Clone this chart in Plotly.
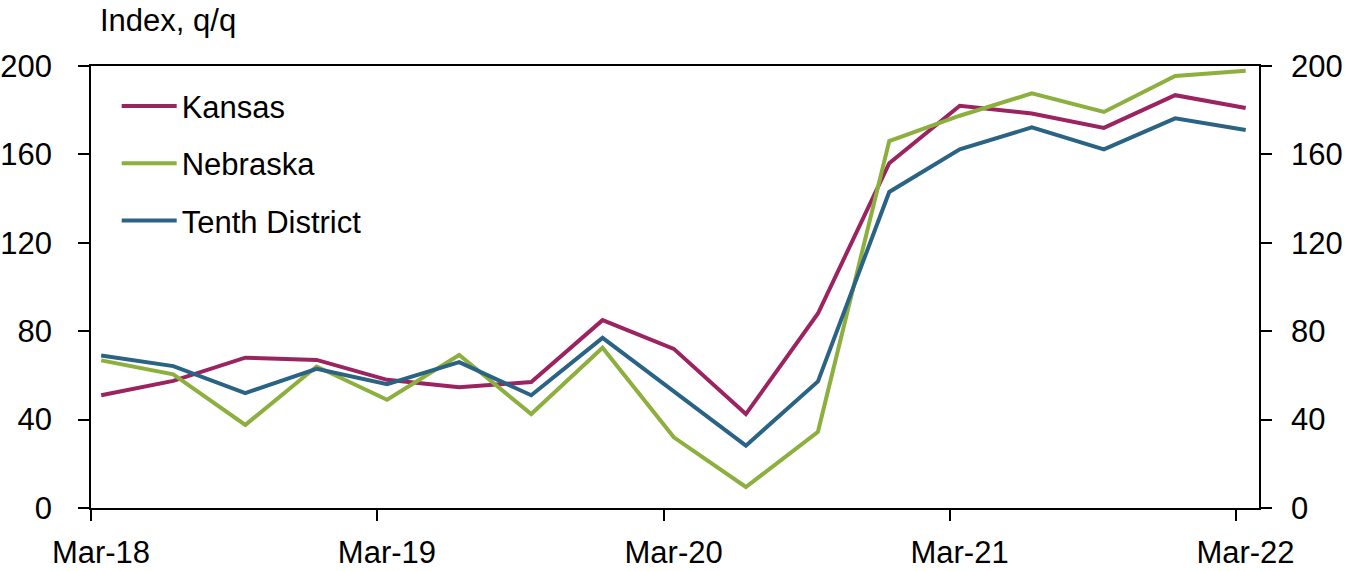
import plotly.graph_objects as go

quarters = ["2018-03", "2018-06", "2018-09", "2018-12",
            "2019-03", "2019-06", "2019-09", "2019-12",
            "2020-03", "2020-06", "2020-09", "2020-12",
            "2021-03", "2021-06", "2021-09", "2021-12",
            "2022-03"]
kansas = [51, 57.5, 68, 67, 58, 54.6, 57, 85, 72, 42.5, 88, 156, 182, 178.5, 172, 186.8, 181]
nebraska = [66.8, 60.5, 37.6, 64, 49, 69.2, 42.5, 72.5, 32, 9.5, 34.5, 166, 177.5, 187.6, 179.2, 195.5, 197.8]
tenth = [69, 64.2, 52, 63, 56, 66, 51, 77, 52.8, 28.2, 57.3, 143, 162.3, 172.2, 162.3, 176.3, 171]

tick_dates = ["2018-03-01", "2019-03-01", "2020-03-01", "2021-03-01", "2022-03-01"]
tick_labels = ["Mar-18", "Mar-19", "Mar-20", "Mar-21", "Mar-22"]
y_ticks = [0, 40, 80, 120, 160, 200]

dates = [q + "-14" for q in quarters]

FONT = "Liberation Sans, Arial, sans-serif"
FS = 31
LW = 4

fig = go.Figure()
fig.add_trace(go.Scatter(x=dates, y=kansas, name="Kansas", mode="lines",
                         line=dict(color="#9B2360", width=LW), legendgroup="a"))
fig.add_trace(go.Scatter(x=dates, y=nebraska, name="Nebraska", mode="lines",
                         line=dict(color="#8CAF3E", width=LW), legendgroup="b"))
fig.add_trace(go.Scatter(x=dates, y=tenth, name="Tenth District", mode="lines",
                         line=dict(color="#2A6383", width=LW), legendgroup="c",
                         yaxis="y2"))

axis_common = dict(range=[0, 200], tickvals=y_ticks, ticks="outside", ticklen=11,
                   tickwidth=1.5, tickcolor="black", showline=True, linecolor="black",
                   linewidth=1.5, showgrid=False, zeroline=False, automargin=False,
                   tickfont=dict(family=FONT, size=FS, color="black"))

fig.update_layout(
    template="none",
    width=1356, height=571,
    margin=dict(l=91, r=97, t=66, b=63, autoexpand=False),
    paper_bgcolor="white", plot_bgcolor="white",
    font=dict(family=FONT, size=FS, color="black"),
    showlegend=True,
    legend=dict(x=0.022, y=0.97, xanchor="left", yanchor="top",
                bgcolor="rgba(0,0,0,0)", font=dict(family=FONT, size=FS, color="black"),
                traceorder="grouped", tracegroupgap=14, itemwidth=55),
    xaxis=dict(type="date", range=["2018-03-01", "2022-03-31"], tickvals=tick_dates,
               ticktext=tick_labels, ticks="outside", ticklen=11, tickwidth=1.5,
               tickcolor="black", showline=True, mirror=True, linecolor="black",
               linewidth=1.5, showgrid=False, zeroline=False, ticklabelshift=10,
               ticklabelstandoff=5, automargin=False,
               tickfont=dict(family=FONT, size=FS, color="black")),
    yaxis=dict(side="left", ticklabelstandoff=20, **axis_common),
    yaxis2=dict(side="right", overlaying="y", ticklabelstandoff=13, **axis_common),
    annotations=[dict(text="Index, q/q", xref="paper", yref="paper", x=0.0057, y=1.104,
                      xanchor="left", yanchor="middle", showarrow=False,
                      font=dict(family=FONT, size=FS, color="black"))],
)

fig.write_html("out.html", config={"displayModeBar": False},
               post_script="document.body.style.margin='0px';document.body.style.overflow='hidden';")
